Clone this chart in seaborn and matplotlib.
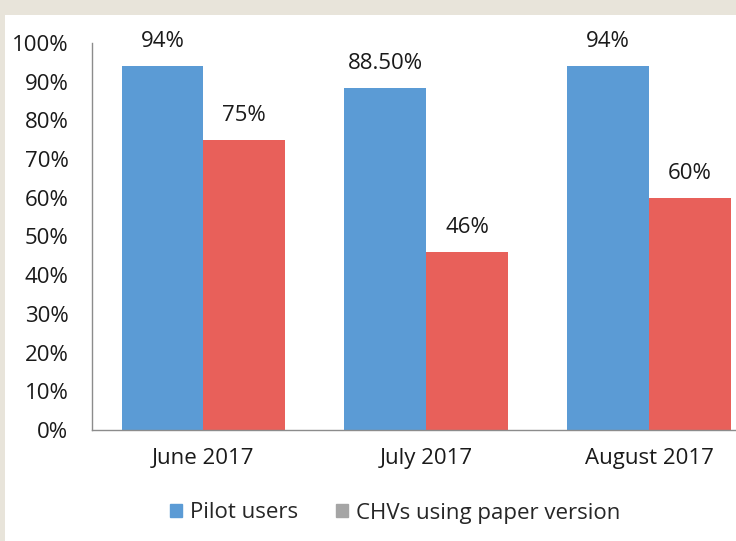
import matplotlib
matplotlib.use("Agg")
import matplotlib.pyplot as plt
import matplotlib.patches as mpatches
import seaborn as sns
import pandas as pd

months = ["June 2017", "July 2017", "August 2017"]
series = ["Pilot users", "CHVs using paper version"]
pilot = [0.94, 0.885, 0.94]
chv = [0.75, 0.46, 0.60]
pilot_labels = ["94%", "88.50%", "94%"]
chv_labels = ["75%", "46%", "60%"]
yticks = [i / 10 for i in range(11)]
ytick_labels = [f"{i*10}%" for i in range(11)]

BLUE = "#5B9BD5"
RED = "#E8605A"
GRAY = "#A5A5A5"
BEIGE = "#E8E4DA"
FS = 16

sns.set_style("white")
plt.rcParams["font.family"] = ["Open Sans", "DejaVu Sans"]

df = pd.DataFrame({
    "month": months * 2,
    "series": [series[0]] * 3 + [series[1]] * 3,
    "value": pilot + chv,
})

fig = plt.figure(figsize=(7.36, 5.41), dpi=100)
fig.patch.set_facecolor(BEIGE)
fig.patches.append(mpatches.Rectangle((5 / 736, 0), 1, 1 - 15 / 541,
                                      transform=fig.transFigure,
                                      facecolor="white", edgecolor="none", zorder=-1))

ax = fig.add_axes([92 / 736, 1 - 430 / 541, 1 - 92 / 736, (430 - 43) / 541])
ax.set_facecolor("none")
sns.barplot(data=df, x="month", y="value", hue="series", palette=[BLUE, RED],
            width=0.735, gap=0, saturation=1, legend=False, linewidth=0, ax=ax)

ax.set_xlim(-0.5, 2.39)
ax.set_ylim(0, 1)
ax.set_yticks(yticks)
ax.set_yticklabels(ytick_labels)
ax.set_xlabel("")
ax.set_ylabel("")
ax.tick_params(axis="both", length=0, labelsize=FS, colors="#1a1a1a")
ax.tick_params(axis="y", pad=17)
ax.tick_params(axis="x", pad=13)
for s in ["top", "right"]:
    ax.spines[s].set_visible(False)
for s in ["left", "bottom"]:
    ax.spines[s].set_color("#8c8c8c")
    ax.spines[s].set_linewidth(1)

for cont, labs in zip(ax.containers, [pilot_labels, chv_labels]):
    ax.bar_label(cont, labels=labs, padding=10, fontsize=FS, color="#1a1a1a")

handles = [mpatches.Patch(color=BLUE, label=series[0]),
           mpatches.Patch(color=GRAY, label=series[1])]
fig.legend(handles=handles, loc="center", bbox_to_anchor=(395.5 / 736, 1 - 513 / 541),
           ncol=2, frameon=False, fontsize=FS, handlelength=0.55, handleheight=0.55,
           handletextpad=0.36, columnspacing=1.7, borderpad=0)

fig.savefig("out.png", dpi=100, facecolor=fig.get_facecolor())
